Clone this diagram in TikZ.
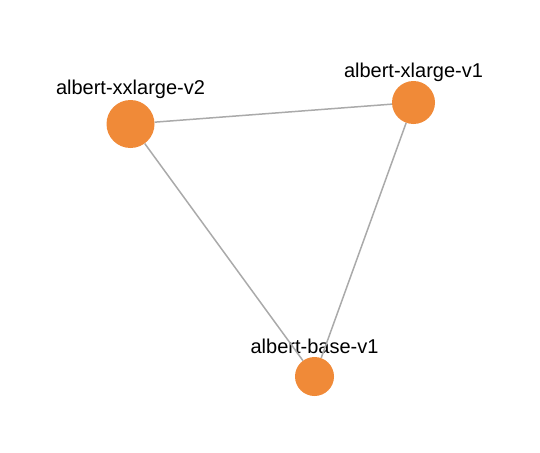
\documentclass[tikz,border=0pt]{standalone}
\usepackage{fontspec}
\setmainfont{Liberation Sans}
\definecolor{nodeorange}{HTML}{F08A38}
\definecolor{edgegray}{HTML}{AAAAAA}
\begin{document}
\begin{tikzpicture}[x=1pt,y=-1pt,
  model/.style={circle,fill=nodeorange,draw=none,inner sep=0pt},
  link/.style={draw=edgegray,line width=1.5pt},
  every label/.style={font=\fontsize{20}{24}\selectfont,anchor=base,inner sep=0pt,text=black}]
\useasboundingbox (0,0) rectangle (540,452);
% models
\node[model,minimum size=48,label={[label distance=5]90:albert-xxlarge-v2}] (xxl) at (130.5,124) {};
\node[model,minimum size=43,label={[label distance=3]90:albert-xlarge-v1}] (xl) at (413.5,102.5) {};
\node[model,minimum size=39,label={[label distance=3]90:albert-base-v1}] (base) at (314.5,376.5) {};
% links
\draw[link] (xxl) -- (xl);
\draw[link] (xl) -- (base);
\draw[link] (xxl) -- (base);
\end{tikzpicture}
\end{document}
